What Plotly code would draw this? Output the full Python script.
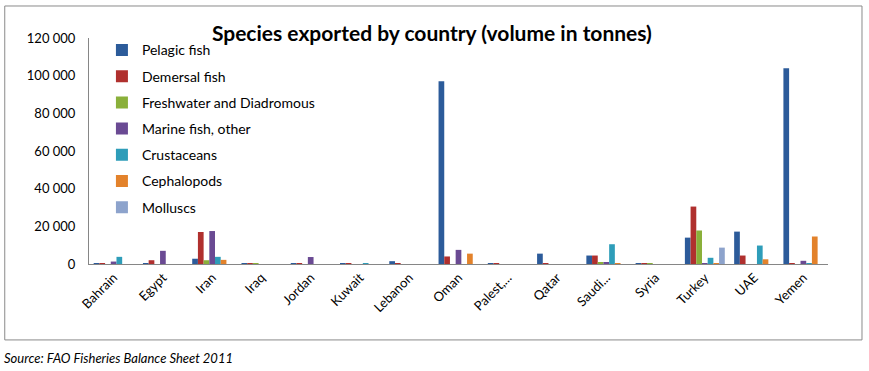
import plotly.graph_objects as go

countries = ["Bahrain", "Egypt", "Iran", "Iraq", "Jordan", "Kuwait", "Lebanon", "Oman",
             "Palest,...", "Qatar", "Saudi...", "Syria", "Turkey", "UAE", "Yemen"]

pelagic = [300, 300, 2800, 100, 100, 200, 1500, 97000, 200, 5500, 4500, 200, 14000, 17200, 104000]
demersal = [100, 2000, 17000, 100, 100, 100, 100, 4000, 100, 200, 4500, 100, 30500, 4500, 500]
freshwater = [0, 0, 2000, 300, 0, 0, 0, 0, 0, 0, 1000, 100, 17800, 0, 0]
marine = [1300, 7000, 17500, 0, 3700, 0, 0, 7500, 0, 0, 1000, 0, 300, 0, 1700]
crustaceans = [3800, 0, 3800, 0, 0, 100, 0, 0, 0, 0, 10500, 0, 3300, 9800, 500]
cephalopods = [0, 0, 2200, 0, 0, 0, 0, 5500, 0, 0, 200, 0, 500, 2500, 14600]
molluscs = [0, 0, 0, 0, 0, 0, 0, 0, 0, 0, 0, 0, 8700, 0, 0]

series_names = ["Pelagic fish", "Demersal fish", "Freshwater and Diadromous",
                "Marine fish, other", "Crustaceans", "Cephalopods", "Molluscs"]
series_values = [pelagic, demersal, freshwater, marine, crustaceans, cephalopods, molluscs]
colors = ["#2C5B9A", "#B0302E", "#8AB03A", "#6A4A93", "#2E9DB9", "#E3822B", "#8DA3CC"]

y_ticks = [0, 20000, 40000, 60000, 80000, 100000, 120000]

FONT = "Lato, Carlito, Calibri, sans-serif"

fig = go.Figure()
for name, vals, col in zip(series_names, series_values, colors):
    fig.add_trace(go.Bar(
        name=name, x=countries, y=vals, legendgroup=name,
        marker=dict(color=col, line=dict(width=0)),
    ))

fig.update_layout(
    width=869, height=371,
    paper_bgcolor="white", plot_bgcolor="white",
    margin=dict(l=89, r=41, t=38, b=107),
    barmode="group", bargap=0.19, bargroupgap=0,
    separators=". ",
    font=dict(family=FONT, size=13, color="#000000"),
    title=dict(text="<b>Species exported by country (volume in tonnes)</b>",
               x=0.497, xanchor="center", y=0.91, yanchor="middle",
               font=dict(family=FONT, size=21, color="#000000")),
    showlegend=True,
    legend=dict(x=0.0175, xanchor="left", y=1.016, yanchor="top",
                bgcolor="rgba(0,0,0,0)", font=dict(family=FONT, size=14),
                traceorder="grouped", tracegroupgap=5, itemwidth=30,
                maxheight=400),
    xaxis=dict(showline=True, linecolor="#868686", linewidth=1, showgrid=False,
               ticks="", tickangle=-45, tickfont=dict(family=FONT, size=13)),
    yaxis=dict(range=[0, 120000], tickvals=y_ticks, tickformat=",d",
               showline=True, linecolor="#868686", linewidth=1, showgrid=False,
               ticks="", zeroline=False, tickfont=dict(family=FONT, size=13),
               ticklabelstandoff=10),
    shapes=[dict(type="rect", xref="paper", yref="paper",
                 x0=-0.114, x1=1.046, y0=-0.336, y1=1.1416,
                 line=dict(color="#8a8a8a", width=1), fillcolor="rgba(0,0,0,0)",
                 layer="below")],
    annotations=[dict(text="<i>Source: FAO Fisheries Balance Sheet 2011</i>",
                      xref="paper", yref="paper", x=-0.1177, xanchor="left",
                      y=-0.416, yanchor="middle", showarrow=False,
                      font=dict(family=FONT, size=13, color="#000000"))],
)

fig.write_html("out.html", config={"displayModeBar": False},
               post_script="document.body.style.margin='0';")
